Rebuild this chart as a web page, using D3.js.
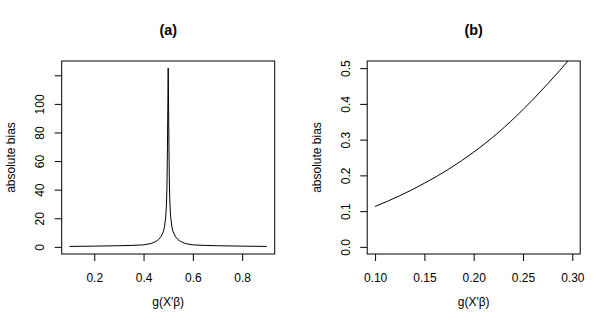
<!DOCTYPE html>
<html>
<head>
<meta charset="utf-8">
<script src="https://cdn.jsdelivr.net/npm/d3@7"></script>
<style>
  body { margin: 0; background: #fff; }
  svg { display: block; font-family: "Liberation Sans", Arial, Helvetica, sans-serif; }
</style>
</head>
<body>
<div id="wrapper"></div>
<script>
// panel (a): absolute bias around g = 0.5
var aX = [0.10, 0.20, 0.30, 0.35, 0.40, 0.43, 0.45, 0.46, 0.47, 0.48, 0.485, 0.49, 0.493, 0.495, 0.497,
          0.500,
          0.503, 0.505, 0.507, 0.51, 0.515, 0.52, 0.53, 0.54, 0.55, 0.57, 0.60, 0.65, 0.70, 0.80, 0.90];
var aY = [0.3, 0.5, 0.8, 1.0, 1.4, 2.3, 3.8, 5.0, 7.0, 10.5, 14, 21, 30, 42, 70,
          125,
          70, 42, 30, 21, 14, 10.5, 7.0, 5.0, 3.8, 2.3, 1.4, 1.0, 0.8, 0.5, 0.3];
var aXTicks = [0.2, 0.4, 0.6, 0.8];
var aYTicks = [0, 20, 40, 60, 80, 100, 120];
var aYLabels = ["0", "20", "40", "60", "80", "100", ""];

// panel (b): absolute bias for small g
var bX = [0.100, 0.125, 0.150, 0.175, 0.200, 0.225, 0.250, 0.275, 0.300];
var bY = [0.113, 0.143, 0.178, 0.218, 0.265, 0.320, 0.384, 0.456, 0.534];
var bXTicks = [0.10, 0.15, 0.20, 0.25, 0.30];
var bXLabels = ["0.10", "0.15", "0.20", "0.25", "0.30"];
var bYTicks = [0.0, 0.1, 0.2, 0.3, 0.4, 0.5];
var bYLabels = ["0.0", "0.1", "0.2", "0.3", "0.4", "0.5"];

var width = 611;
var height = 331;

var svg = d3.select('#wrapper')
    .append('svg')
    .attr('width', width)
    .attr('height', height);

function drawPanel(opts) {
    var box = { left: opts.left, right: opts.left + 213, top: 61, bottom: 254 };
    var g = svg.append('g');

    var xScale = d3.scaleLinear()
        .domain(opts.xDomain)
        .range([box.left, box.right]);
    var yScale = d3.scaleLinear()
        .domain(opts.yDomain)
        .range([box.bottom, box.top]);

    g.append('clipPath')
        .attr('id', opts.id + '-clip')
        .append('rect')
        .attr('x', box.left)
        .attr('y', box.top)
        .attr('width', box.right - box.left)
        .attr('height', box.bottom - box.top);

    var line = d3.line()
        .x(function (d, i) { return xScale(opts.xs[i]); })
        .y(function (d, i) { return yScale(opts.ys[i]); })
        .curve(opts.curve);

    g.append('path')
        .datum(opts.xs)
        .attr('d', line)
        .attr('fill', 'none')
        .attr('stroke', '#000')
        .attr('stroke-width', 1)
        .attr('clip-path', 'url(#' + opts.id + '-clip)');

    // x axis
    var xAxis = g.append('g')
        .attr('transform', 'translate(0,' + box.bottom + ')')
        .call(d3.axisBottom(xScale)
            .tickValues(opts.xTicks)
            .tickSize(7)
            .tickFormat(function (d, i) { return opts.xLabels[i]; }));
    xAxis.select('.domain').remove();
    xAxis.selectAll('text')
        .attr('y', 28)
        .attr('dy', 0)
        .style('font-size', '12px')
        .attr('fill', '#000');

    // y axis, labels parallel to the axis
    var yAxis = g.append('g')
        .attr('transform', 'translate(' + box.left + ',0)')
        .call(d3.axisLeft(yScale)
            .tickValues(opts.yTicks)
            .tickSize(7)
            .tickFormat(function (d, i) { return opts.yLabels[i]; }));
    yAxis.select('.domain').remove();
    yAxis.selectAll('text')
        .attr('x', 0)
        .attr('y', -17.5)
        .attr('dy', 0)
        .attr('transform', 'rotate(-90)')
        .style('text-anchor', 'middle')
        .style('font-size', '12px')
        .attr('fill', '#000');

    g.selectAll('.tick line').attr('stroke', '#000');

    g.append('rect')
        .attr('x', box.left)
        .attr('y', box.top)
        .attr('width', box.right - box.left)
        .attr('height', box.bottom - box.top)
        .attr('fill', 'none')
        .attr('stroke', '#000');

    g.append('text')
        .attr('x', (box.left + box.right) / 2)
        .attr('y', 35)
        .style('text-anchor', 'middle')
        .style('font-size', '14.4px')
        .style('font-weight', 'bold')
        .text(opts.title);

    g.append('text')
        .attr('x', (box.left + box.right) / 2)
        .attr('y', 306)
        .style('text-anchor', 'middle')
        .style('font-size', '12px')
        .text("g(X'\u03B2)");

    g.append('text')
        .attr('transform', 'translate(' + (box.left - 46.5) + ',' + ((box.top + box.bottom) / 2) + ') rotate(-90)')
        .style('text-anchor', 'middle')
        .style('font-size', '12px')
        .text('absolute bias');
}

drawPanel({
    id: 'a', left: 61.7, title: '(a)',
    xDomain: [0.068, 0.932], yDomain: [-5, 130],
    xs: aX, ys: aY, curve: d3.curveLinear,
    xTicks: aXTicks, xLabels: aXTicks.map(String),
    yTicks: aYTicks, yLabels: aYLabels
});

drawPanel({
    id: 'b', left: 367.2, title: '(b)',
    xDomain: [0.092, 0.308], yDomain: [-0.02, 0.52],
    xs: bX, ys: bY, curve: d3.curveMonotoneX,
    xTicks: bXTicks, xLabels: bXLabels,
    yTicks: bYTicks, yLabels: bYLabels
});
</script>
</body>
</html>
